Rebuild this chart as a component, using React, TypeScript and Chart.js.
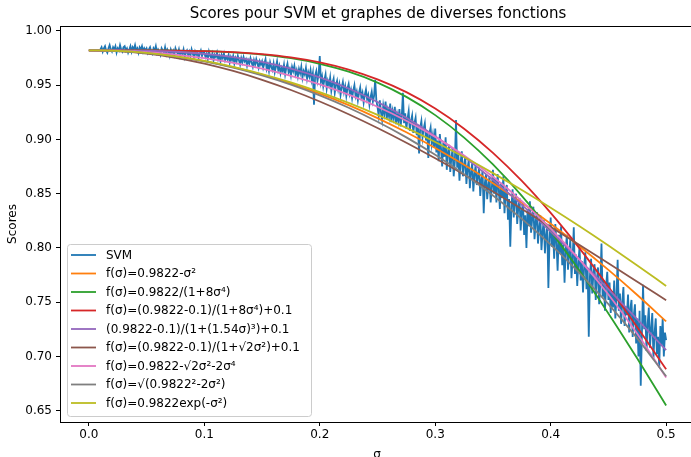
import React, { useEffect, useRef } from "react";
import { Chart, registerables } from "chart.js";

Chart.register(...registerables);

const chartTitle = "Scores pour SVM et graphes de diverses fonctions";
const xTitle = "σ";
const yTitle = "Scores";

const xTicks = [0.0, 0.1, 0.2, 0.3, 0.4, 0.5];
const yTicks = [0.65, 0.7, 0.75, 0.8, 0.85, 0.9, 0.95, 1.0];

const seriesLabels = [
  "SVM",
  "f(σ)=0.9822-σ²",
  "f(σ)=0.9822/(1+8σ⁴)",
  "f(σ)=(0.9822-0.1)/(1+8σ⁴)+0.1",
  "(0.9822-0.1)/(1+(1.54σ)³)+0.1",
  "f(σ)=(0.9822-0.1)/(1+√2σ²)+0.1",
  "f(σ)=0.9822-√2σ²-2σ⁴",
  "f(σ)=√(0.9822²-2σ²)",
  "f(σ)=0.9822exp(-σ²)",
];

const seriesColors = [
  "#1f77b4", "#ff7f0e", "#2ca02c", "#d62728", "#9467bd",
  "#8c564b", "#e377c2", "#7f7f7f", "#bcbd22",
];

// SVM scores, sigma from 0.010 to 0.500 every 0.001
const svmStart = 0.01;
const svmStep = 0.001;
const svmScores = [
  // 0.010 - 0.049
  0.983, 0.985, 0.981, 0.984, 0.986, 0.982, 0.980, 0.984, 0.987, 0.983,
  0.981, 0.985, 0.983, 0.986, 0.980, 0.984, 0.982, 0.987, 0.983, 0.981,
  0.985, 0.986, 0.982, 0.984, 0.980, 0.983, 0.986, 0.981, 0.985, 0.983,
  0.987, 0.982, 0.984, 0.980, 0.985, 0.983, 0.986, 0.981, 0.984, 0.982,
  // 0.050 - 0.099
  0.984, 0.980, 0.983, 0.985, 0.981, 0.979, 0.984, 0.982, 0.986, 0.980,
  0.983, 0.981, 0.978, 0.984, 0.982, 0.980, 0.985, 0.979, 0.983, 0.981,
  0.977, 0.983, 0.980, 0.982, 0.978, 0.984, 0.981, 0.979, 0.983, 0.977,
  0.981, 0.979, 0.983, 0.976, 0.980, 0.982, 0.978, 0.981, 0.977, 0.983,
  0.979, 0.976, 0.981, 0.978, 0.980, 0.975, 0.979, 0.982, 0.977, 0.980,
  // 0.100 - 0.149
  0.980, 0.976, 0.979, 0.974, 0.981, 0.977, 0.975, 0.979, 0.973, 0.978,
  0.976, 0.980, 0.974, 0.977, 0.972, 0.978, 0.975, 0.979, 0.973, 0.976,
  0.974, 0.978, 0.971, 0.976, 0.973, 0.977, 0.970, 0.975, 0.972, 0.977,
  0.973, 0.969, 0.975, 0.971, 0.976, 0.972, 0.974, 0.968, 0.973, 0.970,
  0.975, 0.971, 0.967, 0.973, 0.969, 0.974, 0.970, 0.966, 0.972, 0.969,
  // 0.150 - 0.199
  0.972, 0.966, 0.970, 0.974, 0.965, 0.969, 0.963, 0.971, 0.967, 0.964,
  0.970, 0.962, 0.967, 0.972, 0.964, 0.968, 0.961, 0.966, 0.963, 0.969,
  0.960, 0.966, 0.970, 0.962, 0.965, 0.959, 0.967, 0.963, 0.968, 0.960,
  0.964, 0.958, 0.965, 0.961, 0.967, 0.957, 0.963, 0.960, 0.966, 0.956,
  0.962, 0.958, 0.964, 0.955, 0.961, 0.932, 0.959, 0.963, 0.954, 0.960,
  // 0.200 - 0.249
  0.977, 0.953, 0.958, 0.949, 0.955, 0.960, 0.947, 0.954, 0.950, 0.957,
  0.945, 0.952, 0.956, 0.943, 0.950, 0.954, 0.946, 0.951, 0.941, 0.948,
  0.953, 0.944, 0.949, 0.940, 0.947, 0.951, 0.942, 0.946, 0.938, 0.945,
  0.950, 0.940, 0.944, 0.936, 0.943, 0.948, 0.939, 0.943, 0.934, 0.941,
  0.946, 0.937, 0.941, 0.932, 0.939, 0.944, 0.935, 0.940, 0.955, 0.936,
  // 0.250 - 0.299
  0.930, 0.922, 0.936, 0.925, 0.918, 0.931, 0.924, 0.935, 0.919, 0.927,
  0.921, 0.933, 0.916, 0.926, 0.920, 0.930, 0.914, 0.923, 0.917, 0.928,
  0.912, 0.921, 0.943, 0.915, 0.924, 0.910, 0.919, 0.926, 0.908, 0.917,
  0.922, 0.906, 0.915, 0.920, 0.904, 0.913, 0.887, 0.911, 0.917, 0.902,
  0.910, 0.915, 0.899, 0.908, 0.883, 0.906, 0.911, 0.896, 0.904, 0.893,
  // 0.300 - 0.349
  0.910, 0.888, 0.899, 0.880, 0.905, 0.892, 0.875, 0.897, 0.884, 0.902,
  0.872, 0.888, 0.895, 0.870, 0.883, 0.891, 0.866, 0.880, 0.918, 0.874,
  0.886, 0.862, 0.879, 0.889, 0.866, 0.876, 0.884, 0.859, 0.873, 0.881,
  0.855, 0.870, 0.878, 0.852, 0.868, 0.876, 0.858, 0.866, 0.874, 0.848,
  0.863, 0.871, 0.832, 0.860, 0.868, 0.845, 0.858, 0.866, 0.842, 0.855,
  // 0.350 - 0.399
  0.872, 0.850, 0.864, 0.842, 0.868, 0.855, 0.836, 0.860, 0.846, 0.866,
  0.832, 0.851, 0.858, 0.826, 0.845, 0.801, 0.838, 0.854, 0.828, 0.843,
  0.850, 0.822, 0.838, 0.846, 0.816, 0.834, 0.842, 0.812, 0.830, 0.800,
  0.836, 0.820, 0.843, 0.814, 0.827, 0.838, 0.808, 0.824, 0.833, 0.804,
  0.820, 0.830, 0.798, 0.815, 0.826, 0.795, 0.812, 0.822, 0.763, 0.808,
  // 0.400 - 0.449
  0.828, 0.801, 0.817, 0.790, 0.822, 0.806, 0.779, 0.812, 0.795, 0.820,
  0.784, 0.803, 0.768, 0.798, 0.812, 0.780, 0.795, 0.808, 0.772, 0.790,
  0.819, 0.776, 0.794, 0.765, 0.787, 0.801, 0.770, 0.788, 0.759, 0.783,
  0.796, 0.762, 0.781, 0.718, 0.774, 0.790, 0.758, 0.776, 0.785, 0.752,
  0.771, 0.782, 0.748, 0.768, 0.804, 0.755, 0.770, 0.742, 0.765, 0.778,
  // 0.450 - 0.500
  0.752, 0.768, 0.740, 0.760, 0.745, 0.770, 0.735, 0.755, 0.789, 0.742,
  0.758, 0.730, 0.750, 0.764, 0.728, 0.746, 0.738, 0.757, 0.722, 0.744,
  0.752, 0.718, 0.738, 0.748, 0.712, 0.735, 0.700, 0.742, 0.673, 0.720,
  0.766, 0.725, 0.738, 0.705, 0.730, 0.745, 0.708, 0.726, 0.740, 0.698,
  0.722, 0.735, 0.702, 0.718, 0.690, 0.728, 0.710, 0.735, 0.700, 0.722,
  0.715,
];

const curveSigma = [
  0, 0.025, 0.05, 0.075, 0.1, 0.125, 0.15, 0.175, 0.2, 0.225, 0.25,
  0.275, 0.3, 0.325, 0.35, 0.375, 0.4, 0.425, 0.45, 0.475, 0.5,
];
const orangeValues = [
  0.9822, 0.9816, 0.9797, 0.9766, 0.9722, 0.9666, 0.9597, 0.9516, 0.9422, 0.9316, 0.9197,
  0.9066, 0.8922, 0.8766, 0.8597, 0.8416, 0.8222, 0.8016, 0.7797, 0.7566, 0.7322,
];
const greenValues = [
  0.9822, 0.9822, 0.98215, 0.98195, 0.98141, 0.98029, 0.97824, 0.97489, 0.96979, 0.96247, 0.95244,
  0.93923, 0.92243, 0.90172, 0.87692, 0.84804, 0.81524, 0.77891, 0.73958, 0.69795, 0.6548,
];
const redValues = [
  0.9822, 0.9822, 0.98216, 0.98198, 0.98149, 0.98048, 0.97864, 0.97563, 0.97105, 0.96448, 0.95547,
  0.94361, 0.92851, 0.90991, 0.88764, 0.8617, 0.83224, 0.7996, 0.76428, 0.72689, 0.68813,
];
const purpleValues = [
  0.9822, 0.98215, 0.9818, 0.98084, 0.97899, 0.97595, 0.97147, 0.96527, 0.95716, 0.94697, 0.93457,
  0.91992, 0.90302, 0.88392, 0.86277, 0.83972, 0.81505, 0.78902, 0.76191, 0.73403, 0.70568,
];
const brownValues = [
  0.9822, 0.98142, 0.97909, 0.97524, 0.9699, 0.96313, 0.95498, 0.94557, 0.93496, 0.92326, 0.91056,
  0.89697, 0.8826, 0.86754, 0.85193, 0.83585, 0.81941, 0.8027, 0.7858, 0.7688, 0.75177,
];
const pinkValues = [
  0.9822, 0.98176, 0.98042, 0.97816, 0.97493, 0.97066, 0.96528, 0.95867, 0.95072, 0.94128, 0.93019,
  0.91729, 0.90236, 0.8852, 0.86557, 0.84321, 0.81786, 0.78923, 0.757, 0.72085, 0.68042,
];
const grayValues = [
  0.9822, 0.98157, 0.97965, 0.97646, 0.97197, 0.96616, 0.95902, 0.95051, 0.9406, 0.92923, 0.91636,
  0.90193, 0.88584, 0.86803, 0.84836, 0.82672, 0.80295, 0.77684, 0.74815, 0.71657, 0.6817,
];
const yellowValues = [
  0.9822, 0.98159, 0.97975, 0.97669, 0.97243, 0.96697, 0.96035, 0.95258, 0.94369, 0.93371, 0.92269,
  0.91066, 0.89766, 0.88375, 0.86896, 0.85335, 0.83698, 0.81989, 0.80215, 0.7838, 0.76494,
];

const curveSeries = [
  orangeValues, greenValues, redValues, purpleValues,
  brownValues, pinkValues, grayValues, yellowValues,
];

const FONT = "'DejaVu Sans', sans-serif";

export default function App() {
  const canvasRef = useRef<HTMLCanvasElement | null>(null);

  useEffect(() => {
    const canvas = canvasRef.current;
    if (!canvas) return;

    const datasets: any[] = [];
    datasets.push({
      label: seriesLabels[0],
      data: svmScores.map((y, i) => ({ x: svmStart + svmStep * i, y })),
      borderColor: seriesColors[0],
      borderWidth: 1.8,
      pointRadius: 0,
      tension: 0,
      order: 0,
    });
    curveSeries.forEach((vals, k) => {
      datasets.push({
        label: seriesLabels[k + 1],
        data: vals.map((y, i) => ({ x: curveSigma[i], y })),
        borderColor: seriesColors[k + 1],
        borderWidth: 1.8,
        pointRadius: 0,
        cubicInterpolationMode: "monotone",
        order: -(k + 1),
      });
    });

    const decor = {
      id: "decor",
      afterDraw(chart: any) {
        const ctx = chart.ctx;
        const a = chart.chartArea;
        ctx.save();
        // frame
        ctx.strokeStyle = "#000";
        ctx.lineWidth = 1;
        ctx.strokeRect(Math.round(a.left) + 0.5, Math.round(a.top) + 0.5, Math.round(a.right - a.left), Math.round(a.bottom - a.top));
        // title
        ctx.fillStyle = "#000";
        ctx.font = `15px ${FONT}`;
        ctx.textAlign = "center";
        ctx.textBaseline = "alphabetic";
        ctx.fillText(chartTitle, 378, 17.5);
        // axis titles
        ctx.font = `12px ${FONT}`;
        ctx.fillText(xTitle, 377, 457.5);
        ctx.textBaseline = "middle";
        ctx.save();
        ctx.translate(13, 224);
        ctx.rotate(-Math.PI / 2);
        ctx.fillText(yTitle, 0, 0);
        ctx.restore();
        // legend
        const lx = 67, ly = 244, lw = 244, lh = 172;
        ctx.beginPath();
        ctx.roundRect(lx + 0.5, ly + 0.5, lw, lh, 3);
        ctx.fillStyle = "rgba(255,255,255,0.8)";
        ctx.fill();
        ctx.strokeStyle = "#cccccc";
        ctx.lineWidth = 1;
        ctx.stroke();
        ctx.textAlign = "left";
        ctx.font = `12px ${FONT}`;
        seriesLabels.forEach((lab, i) => {
          const y = 255 + i * 18.5;
          ctx.strokeStyle = seriesColors[i];
          ctx.lineWidth = 1.8;
          ctx.beginPath();
          ctx.moveTo(71, y);
          ctx.lineTo(96, y);
          ctx.stroke();
          ctx.fillStyle = "#000";
          ctx.fillText(lab, 106, y + 0.5);
        });
        ctx.restore();
      },
    };

    const chart = new Chart(canvas, {
      type: "line",
      data: { datasets },
      options: {
        responsive: false,
        devicePixelRatio: 1,
        animation: false,
        layout: { padding: { top: 26, left: 0, right: 0, bottom: 0 } },
        plugins: {
          legend: { display: false },
          title: { display: false },
          tooltip: { enabled: false },
        },
        scales: {
          x: {
            type: "linear",
            min: -0.025,
            max: 0.525,
            afterBuildTicks: (scale: any) => {
              scale.ticks = xTicks.map((v) => ({ value: v }));
            },
            afterFit: (scale: any) => {
              scale.height = 35;
            },
            ticks: {
              color: "#000",
              font: { family: FONT, size: 12 },
              padding: 2,
              maxRotation: 0,
              callback: (v: any) => Number(v).toFixed(1),
            },
            grid: {
              drawOnChartArea: false,
              drawTicks: true,
              tickLength: 4,
              color: "#000",
              tickColor: "#000",
            },
            border: { display: false },
          },
          y: {
            type: "linear",
            min: 0.6395,
            max: 1.0046,
            afterBuildTicks: (scale: any) => {
              scale.ticks = yTicks.map((v) => ({ value: v }));
            },
            afterFit: (scale: any) => {
              scale.width = 60;
            },
            ticks: {
              color: "#000",
              font: { family: FONT, size: 12 },
              padding: 4,
              callback: (v: any) => Number(v).toFixed(2),
            },
            grid: {
              drawOnChartArea: false,
              drawTicks: true,
              tickLength: 4,
              color: "#000",
              tickColor: "#000",
            },
            border: { display: false },
          },
        },
      },
      plugins: [decor],
    } as any);

    return () => chart.destroy();
  }, []);

  return (
    <div
      style={{
        position: "fixed",
        left: 0,
        top: 0,
        width: 691,
        height: 457,
        overflow: "hidden",
        background: "#fff",
      }}
    >
      <canvas ref={canvasRef} width={695} height={457} style={{ display: "block" }} />
    </div>
  );
}
